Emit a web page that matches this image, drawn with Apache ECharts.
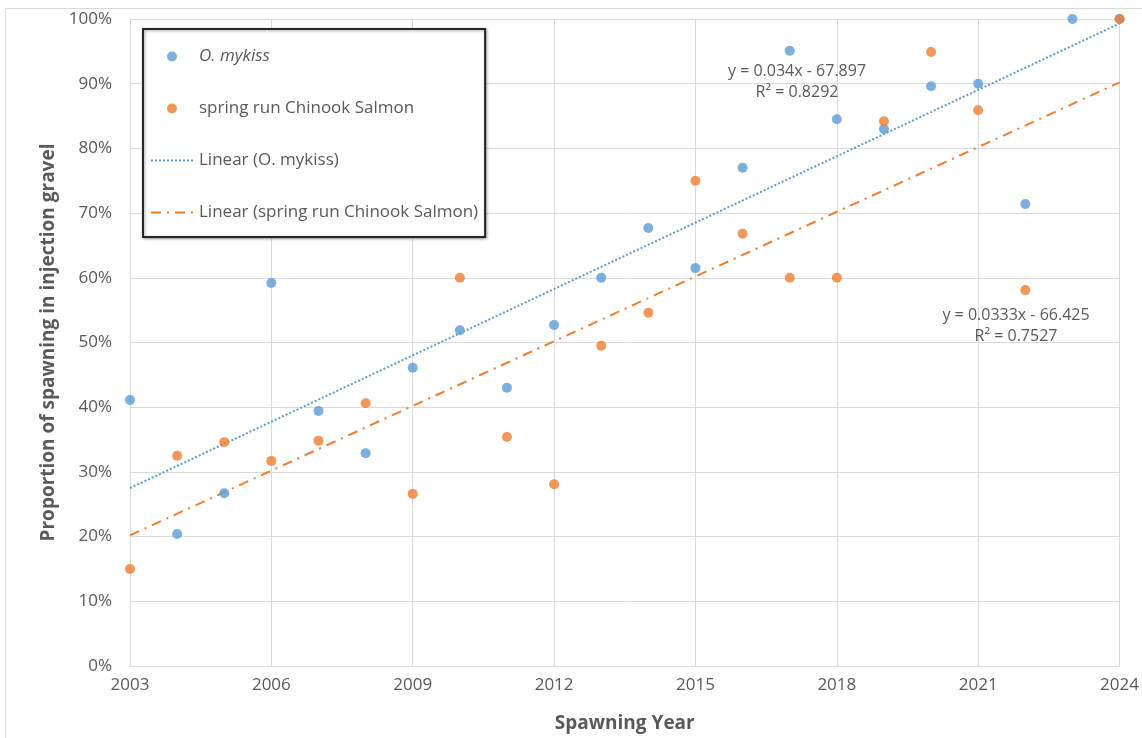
<!DOCTYPE html>
<html>
<head>
<meta charset="utf-8">
<title>Spawning in injection gravel</title>
<script src="https://cdn.jsdelivr.net/npm/echarts@6/dist/echarts.min.js"></script>
<style>
    html, body { margin: 0; padding: 0; background: #fff; }
    #main { width: 1142px; height: 738px; }
</style>
</head>
<body>
<div id="main"></div>
<script>
// 数据 (percent)
const mykissYears = [2003, 2004, 2005, 2006, 2007, 2008, 2009, 2010, 2011, 2012, 2013, 2014, 2015, 2016, 2017, 2018, 2019, 2020, 2021, 2022, 2023, 2024];
const mykissValues = [41.1, 20.4, 26.7, 59.2, 39.4, 32.9, 46.1, 51.9, 43.0, 52.7, 60.0, 67.7, 61.5, 77.0, 95.1, 84.5, 83.0, 89.6, 90.0, 71.4, 100, 100];

const chinookYears = [2003, 2004, 2005, 2006, 2007, 2008, 2009, 2010, 2011, 2012, 2013, 2014, 2015, 2016, 2017, 2018, 2019, 2020, 2021, 2022, 2024];
const chinookValues = [15.0, 32.5, 34.6, 31.7, 34.8, 40.6, 26.6, 60.0, 35.4, 28.1, 49.5, 54.6, 75.0, 66.8, 60.0, 60.0, 84.2, 94.9, 85.9, 58.1, 100];

// trendline end points (as drawn)
const trendYears = [2003, 2024];
const mykissTrend = [27.5, 99.3];
const chinookTrend = [20.2, 90.2];

const eqMykiss = ['y = 0.034x - 67.897', 'R² = 0.8292'];
const eqChinook = ['y = 0.0333x - 66.425', 'R² = 0.7527'];

const xTicks = [2003, 2024, 3];
const yTicks = [0, 100, 10];

const BLUE = '#5B9BD5';
const ORANGE = '#ED7D31';
const TEXT = '#595959';
const GRID = '#d9d9d9';
const FONT = '"Open Sans", "Liberation Sans", sans-serif';

const pairs = (xs, ys) => xs.map((x, i) => [x, ys[i]]);

// 趋势线的图例只要线，不要中间的圆点
const noDot = { itemStyle: { opacity: 0 } };

const option = {
    animation: false,
    backgroundColor: '#fff',
    textStyle: { fontFamily: FONT, color: TEXT },
    grid: { left: 130, right: 19, top: 19, bottom: 72 },
    legend: {
        orient: 'vertical',
        left: 143,
        top: 29,
        padding: [19, 7, 16, 7],
        itemGap: 35,
        itemWidth: 42,
        itemHeight: 10,
        borderColor: '#262626',
        borderWidth: 2,
        backgroundColor: '#fff',
        shadowColor: 'rgba(0,0,0,0.35)',
        shadowBlur: 3,
        shadowOffsetX: 1,
        shadowOffsetY: 1,
        textStyle: { fontFamily: FONT, fontSize: 17, color: TEXT, padding: [0, 0, 0, 1] },
        data: [
            { name: 'O. mykiss', textStyle: { fontStyle: 'italic' } },
            { name: 'spring run Chinook Salmon' },
            Object.assign({ name: 'Linear (O. mykiss)' }, noDot),
            Object.assign({ name: 'Linear (spring run Chinook Salmon)' }, noDot)
        ]
    },
    xAxis: {
        type: 'value',
        min: xTicks[0],
        max: xTicks[1],
        interval: xTicks[2],
        name: 'Spawning Year',
        nameLocation: 'middle',
        nameGap: 48,
        nameTextStyle: { fontFamily: FONT, fontSize: 19, fontWeight: 'bold', color: TEXT },
        axisLine: { lineStyle: { color: GRID } },
        axisTick: { show: false },
        axisLabel: { fontSize: 17, color: TEXT, margin: 11, formatter: v => String(v) },
        splitLine: { show: true, lineStyle: { color: GRID } }
    },
    yAxis: {
        type: 'value',
        min: yTicks[0],
        max: yTicks[1],
        interval: yTicks[2],
        name: 'Proportion of spawning in injection gravel',
        nameLocation: 'middle',
        nameRotate: 90,
        nameGap: 69,
        nameTextStyle: { fontFamily: FONT, fontSize: 19, fontWeight: 'bold', color: TEXT },
        axisLine: { show: false },
        axisTick: { show: false },
        axisLabel: { fontSize: 17, color: TEXT, margin: 18, formatter: '{value}%' },
        splitLine: { lineStyle: { color: GRID } }
    },
    graphic: [
        // chart area border
        {
            type: 'rect', left: 3, top: 6, z: -1, silent: true,
            shape: { width: 1150, height: 740 },
            style: { fill: 'none', stroke: GRID, lineWidth: 1 }
        },
        {
            type: 'text', z: 10,
            style: {
                text: eqMykiss.join('\n'), x: 797, y: 61, align: 'center',
                font: '16px ' + FONT, fill: TEXT, lineHeight: 21
            }
        },
        {
            type: 'text', z: 10,
            style: {
                text: eqChinook.join('\n'), x: 1016, y: 305, align: 'center',
                font: '16px ' + FONT, fill: TEXT, lineHeight: 21
            }
        }
    ],
    series: [
        {
            name: 'O. mykiss',
            type: 'scatter',
            symbolSize: 10,
            itemStyle: { color: BLUE },
            z: 3,
            data: pairs(mykissYears, mykissValues)
        },
        {
            name: 'spring run Chinook Salmon',
            type: 'scatter',
            symbolSize: 10,
            itemStyle: { color: ORANGE },
            z: 4,
            data: pairs(chinookYears, chinookValues)
        },
        {
            name: 'Linear (O. mykiss)',
            type: 'line',
            symbol: 'none',
            itemStyle: { color: BLUE },
            lineStyle: { color: BLUE, width: 2, type: [2, 2] },
            z: 2,
            data: pairs(trendYears, mykissTrend)
        },
        {
            name: 'Linear (spring run Chinook Salmon)',
            type: 'line',
            symbol: 'none',
            itemStyle: { color: ORANGE },
            lineStyle: { color: ORANGE, width: 2, type: [10, 6, 2, 6] },
            z: 2,
            data: pairs(trendYears, chinookTrend)
        }
    ]
};

const myChart = echarts.init(document.getElementById('main'));
myChart.setOption(option);
</script>
</body>
</html>
